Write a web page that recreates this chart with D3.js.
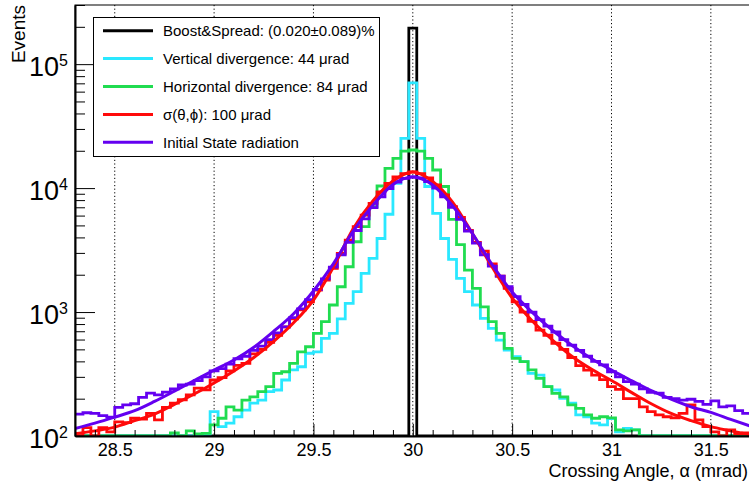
<!DOCTYPE html>
<html>
<head>
<meta charset="utf-8">
<script src="https://cdn.jsdelivr.net/npm/d3@7/dist/d3.min.js"></script>
<style>
    html, body { margin: 0; padding: 0; background: #fff; }
    #chart { width: 749px; height: 486px; overflow: hidden; }
    text { font-family: "Liberation Sans", Arial, Helvetica, sans-serif; }
</style>
</head>
<body>
<div id="chart"></div>
<script>
// bins: 85 bins of 0.04 mrad starting at 28.3 mrad
const binStart = 28.3;
const binWidth = 0.04;

const boostCounts = [
    0, 0, 0, 0, 0, 0, 0, 0, 0, 0, 0, 0, 0, 0, 0, 0, 0, 0, 0, 0,
    0, 0, 0, 0, 0, 0, 0, 0, 0, 0, 0, 0, 0, 0, 0, 0, 0, 0, 0, 0,
    0, 0, 195000, 0, 0, 0, 0, 0, 0, 0, 0, 0, 0, 0, 0, 0, 0, 0, 0, 0,
    0, 0, 0, 0, 0, 0, 0, 0, 0, 0, 0, 0, 0, 0, 0, 0, 0, 0, 0, 0,
    0, 0, 0, 0, 0
];

const verticalCounts = [
    0, 0, 0, 0, 0, 0, 0, 0, 0, 0, 0, 0, 0, 0, 0, 0,
    103, 157, 119, 127, 143, 162, 184, 195, 228, 235, 283, 341, 362, 465, 478, 614,
    673, 880, 1175, 1460, 2050, 2710, 3920, 6150, 10900, 25200, 70600, 25200, 10300, 6250,
    3920, 2660, 1870, 1460, 1140, 890, 739, 594, 494, 437, 398, 320, 310, 250, 235,
    201, 184, 148, 143, 127, 123, 138, 108, 115, 112,
    0, 0, 0, 0, 0, 0, 0, 0, 0, 0, 0, 0, 0, 0
];

const horizontalCounts = [
    0, 0, 0, 0, 0, 0, 0, 0, 0, 0, 0, 0,
    106, 0, 110, 104, 105, 123, 139, 172, 162, 195, 207, 228, 250, 320, 330, 385,
    478, 525, 673, 836, 1140, 1600, 2320, 3690, 4880, 7060, 10400, 14400, 17400, 19900,
    20300, 19900, 17400, 14000, 10300, 5600, 3500, 2180, 1550, 1100, 836, 673, 509, 423,
    398, 341, 292, 250, 221, 207, 178, 167, 148, 139, 143, 140, 112, 110, 112,
    0, 0, 0, 0, 0, 0, 0, 0, 0, 0, 0, 0, 0, 0
];

const sigmaCounts = [
    0, 117, 0, 117, 108, 130, 128, 139, 137, 152, 135, 170, 184, 196, 215, 243,
    236, 283, 296, 335, 372, 385, 460, 500, 570, 650, 760, 880, 1040, 1210, 1500, 1810,
    2250, 2970, 3800, 4880, 6050, 7530, 9330, 10900, 12300, 13100, 13500, 13100, 12100, 10600,
    8800, 7100, 5800, 4550, 3650, 3100, 2450, 1950, 1550, 1210, 1000, 840, 715, 650,
    560, 500, 430, 370, 340, 310, 285, 250, 238, 200, 200, 172, 157, 148, 143, 140,
    152, 178, 135, 119, 108, 0, 112, 104, 106
];

const isrCounts = [
    150, 154, 152, 146, 142, 170, 178, 182, 205, 222, 215, 226, 240, 258, 262, 280,
    300, 335, 350, 380, 420, 440, 490, 530, 600, 680, 760, 900, 1060, 1260, 1520, 1850,
    2300, 2900, 3650, 4550, 5650, 6950, 8500, 9900, 11200, 12000, 12300, 12100, 11300, 10000,
    8500, 7000, 5600, 4500, 3600, 2900, 2350, 1950, 1600, 1330, 1150, 1000, 870, 770,
    690, 600, 540, 490, 440, 400, 375, 330, 300, 275, 262, 240, 225, 222, 205, 200,
    195, 198, 190, 180, 192, 172, 175, 160, 152
];

// fitted curves, sampled every 0.1 mrad
const fitAngles = [
    28.3, 28.4, 28.5, 28.6, 28.7, 28.8, 28.9, 29.0, 29.1, 29.2, 29.3, 29.4,
    29.5, 29.6, 29.7, 29.8, 29.9, 30.0, 30.1, 30.2, 30.3, 30.4, 30.5, 30.6,
    30.7, 30.8, 30.9, 31.0, 31.1, 31.2, 31.3, 31.4, 31.5, 31.6, 31.7
];
const sigmaFit = [
    104, 110, 118, 133, 150, 180, 218, 268, 335, 430, 580, 820,
    1250, 2300, 4700, 7900, 11400, 13500, 11300, 7700, 4300, 2300, 1300, 850,
    600, 440, 345, 280, 225, 182, 152, 133, 119, 110, 102
];
const isrFit = [
    115, 127, 142, 160, 190, 230, 280, 340, 410, 520, 700, 970,
    1480, 2450, 4500, 7300, 10700, 12300, 10600, 7200, 4300, 2400, 1450, 1000,
    720, 540, 420, 340, 280, 232, 198, 172, 155, 136, 120
];

const xTickValues = [28.5, 29, 29.5, 30, 30.5, 31, 31.5];
const yTickExponents = [2, 3, 4, 5];

const legendLabels = [
    "Boost&Spread: (0.020\u00b10.089)%",
    "Vertical divergence: 44 \u03bcrad",
    "Horizontal divergence: 84 \u03bcrad",
    "\u03c3(\u03b8,\u03d5): 100 \u03bcrad",
    "Initial State radiation"
];

class CrossingAngleChart {
    constructor(parentElement) {
        this.parentElement = parentElement;
        this.series = [
            {counts: boostCounts, color: "#000000"},
            {counts: verticalCounts, color: "#2ae8ff"},
            {counts: horizontalCounts, color: "#20dc50"},
            {counts: sigmaCounts, color: "#ff0a0a"},
            {counts: isrCounts, color: "#6400f0"}
        ];
        this.initVis();
    }

    initVis() {
        let vis = this;

        vis.width = 749;
        vis.height = 486;
        vis.margin = {top: 5, left: 75, bottom: 50};
        vis.yMin = 100;
        vis.yMax = 3e5;

        vis.svg = d3.select("#" + vis.parentElement).append("svg")
            .attr("width", vis.width)
            .attr("height", vis.height);

        // x runs 28.3 -> 31.7, right frame falls just outside the window
        vis.x = d3.scaleLinear()
            .domain([binStart, binStart + boostCounts.length * binWidth])
            .range([vis.margin.left, 750.6]);
        vis.y = d3.scaleLog()
            .domain([vis.yMin, vis.yMax])
            .range([vis.height - vis.margin.bottom, vis.margin.top]);

        let y0 = vis.y.range()[0];
        let y1 = vis.y.range()[1];

        vis.svg.append("clipPath").attr("id", "plot-clip")
            .append("rect")
            .attr("x", vis.x.range()[0])
            .attr("y", y1)
            .attr("width", vis.x.range()[1] - vis.x.range()[0])
            .attr("height", y0 - y1 + 1);

        // dotted grid
        vis.svg.append("g").attr("class", "grid")
            .selectAll("line")
            .data(xTickValues)
            .enter().append("line")
            .attr("x1", d => vis.x(d))
            .attr("x2", d => vis.x(d))
            .attr("y1", y1)
            .attr("y2", y0)
            .attr("stroke", "#000")
            .attr("stroke-width", 1)
            .attr("stroke-dasharray", "1.2,2.4");

        vis.wrangleData();
    }

    wrangleData() {
        let vis = this;

        // turn bin counts into step outlines, empty bins sit on the floor
        vis.displayData = vis.series.map(s => {
            let pts = [];
            s.counts.forEach((c, i) => {
                let v = Math.min(Math.max(c, vis.yMin), vis.yMax);
                pts.push([binStart + i * binWidth, v]);
                pts.push([binStart + (i + 1) * binWidth, v]);
            });
            return {color: s.color, points: pts};
        });

        vis.fits = [
            {color: "#ff0a0a", points: fitAngles.map((a, i) => [a, sigmaFit[i]])},
            {color: "#6400f0", points: fitAngles.map((a, i) => [a, isrFit[i]])}
        ];

        vis.updateVis();
    }

    updateVis() {
        let vis = this;
        let y0 = vis.y.range()[0];
        let y1 = vis.y.range()[1];

        let plot = vis.svg.append("g").attr("clip-path", "url(#plot-clip)");

        let stepLine = d3.line()
            .x(d => vis.x(d[0]))
            .y(d => vis.y(d[1]));

        plot.selectAll(".hist")
            .data(vis.displayData)
            .enter().append("path")
            .attr("class", "hist")
            .attr("d", d => stepLine(d.points))
            .attr("fill", "none")
            .attr("stroke", d => d.color)
            .attr("stroke-width", 2.8);

        let fitLine = d3.line()
            .curve(d3.curveMonotoneX)
            .x(d => vis.x(d[0]))
            .y(d => vis.y(d[1]));

        plot.selectAll(".fit")
            .data(vis.fits)
            .enter().append("path")
            .attr("class", "fit")
            .attr("d", d => fitLine(d.points))
            .attr("fill", "none")
            .attr("stroke", d => d.color)
            .attr("stroke-width", 3);

        // frame
        vis.svg.append("rect")
            .attr("x", vis.x.range()[0])
            .attr("y", y1)
            .attr("width", vis.x.range()[1] - vis.x.range()[0])
            .attr("height", y0 - y1)
            .attr("fill", "none")
            .attr("stroke", "#000")
            .attr("stroke-width", 1);

        // x axis
        let xMinor = d3.range(1, 35).map(i => +(binStart + i * 0.1).toFixed(1))
            .filter(v => xTickValues.indexOf(v) < 0);

        vis.svg.append("g")
            .attr("transform", `translate(0, ${y0})`)
            .call(d3.axisBottom(vis.x).tickValues(xMinor).tickSizeInner(-6).tickSizeOuter(0).tickFormat(""))
            .call(g => g.select(".domain").remove());

        let xAxis = vis.svg.append("g")
            .attr("class", "x-axis")
            .attr("transform", `translate(0, ${y0})`)
            .call(d3.axisBottom(vis.x).tickValues(xTickValues).tickSizeInner(-12).tickSizeOuter(0)
                .tickPadding(7).tickFormat(d => d));
        xAxis.select(".domain").attr("stroke-width", 2);
        xAxis.selectAll("text").attr("font-size", "18px").attr("fill", "#000");

        // y axis
        let yMinor = vis.y.ticks().filter(v => Math.abs(Math.log10(v) % 1) > 1e-6);
        vis.svg.append("g")
            .attr("transform", `translate(${vis.x.range()[0]}, 0)`)
            .call(d3.axisLeft(vis.y).tickValues(yMinor).tickSizeInner(-10).tickSizeOuter(0).tickFormat(""))
            .call(g => g.select(".domain").remove());

        let yAxis = vis.svg.append("g")
            .attr("class", "y-axis")
            .attr("transform", `translate(${vis.x.range()[0]}, 0)`)
            .call(d3.axisLeft(vis.y).tickValues(yTickExponents.map(e => Math.pow(10, e)))
                .tickSizeInner(-20).tickSizeOuter(0).tickPadding(7).tickFormat(""));
        yAxis.select(".domain").attr("stroke-width", 2);
        yAxis.selectAll(".tick text")
            .attr("font-size", "27px")
            .attr("fill", "#000")
            .attr("dy", "0.41em")
            .each(function(d) {
                let t = d3.select(this);
                t.append("tspan").text("10");
                t.append("tspan")
                    .attr("font-size", "16px")
                    .attr("dy", "-10")
                    .text(Math.round(Math.log10(d)));
            });

        // axis titles
        vis.svg.append("text")
            .attr("transform", "translate(25, 5) rotate(-90)")
            .attr("text-anchor", "end")
            .attr("font-size", "19px")
            .text("Events");

        vis.svg.append("text")
            .attr("x", 748)
            .attr("y", 477)
            .attr("text-anchor", "end")
            .attr("font-size", "18px")
            .text("Crossing Angle, \u03b1 (mrad)");

        // legend
        let legend = vis.svg.append("g").attr("class", "legend");
        legend.append("rect")
            .attr("x", 93.5)
            .attr("y", 17.5)
            .attr("width", 286)
            .attr("height", 139)
            .attr("fill", "#fff")
            .attr("stroke", "#000")
            .attr("stroke-width", 1);

        let entries = legend.selectAll(".entry")
            .data(vis.series)
            .enter().append("g")
            .attr("class", "entry")
            .attr("transform", (d, i) => `translate(0, ${30.7 + i * 27.9})`);

        entries.append("line")
            .attr("x1", 103)
            .attr("x2", 153)
            .attr("stroke", d => d.color)
            .attr("stroke-width", 3);

        entries.append("text")
            .attr("x", 163)
            .attr("y", 5.5)
            .attr("font-size", "15px")
            .text((d, i) => legendLabels[i]);
    }
}

new CrossingAngleChart("chart");
</script>
</body>
</html>
